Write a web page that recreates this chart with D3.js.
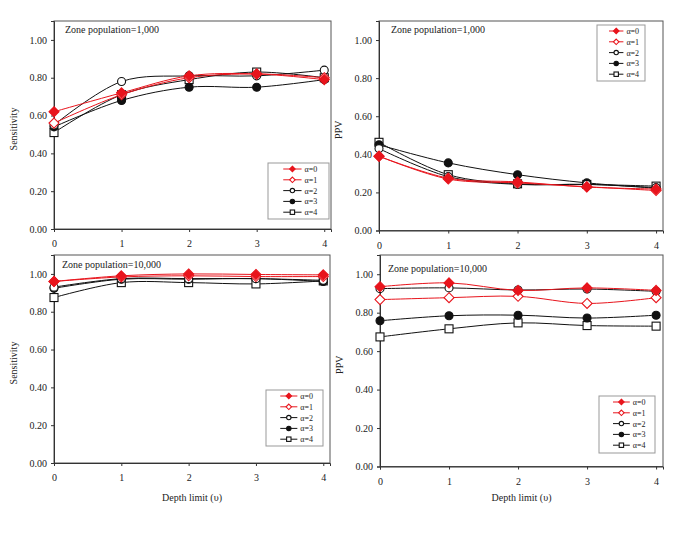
<!DOCTYPE html>
<html><head><meta charset="utf-8">
<script src="https://cdn.jsdelivr.net/npm/d3@7"></script>
<style>body{margin:0;background:#fff}svg{display:block}svg text{font-family:"Liberation Serif","Times New Roman",serif !important;fill:#222}</style>
</head><body><svg id="c" width="685" height="537" font-family="Liberation Serif"></svg>
<script>
const depth = [0, 1, 2, 3, 4];
const seriesNames = ["α=0", "α=1", "α=2", "α=3", "α=4"];
const yTicks = [0, 0.2, 0.4, 0.6, 0.8, 1.0];

// Sensitivity, zone population 1,000
const sens1000_a0 = [0.62, 0.72, 0.81, 0.82, 0.79];
const sens1000_a1 = [0.56, 0.71, 0.80, 0.82, 0.80];
const sens1000_a2 = [0.55, 0.78, 0.81, 0.81, 0.84];
const sens1000_a3 = [0.54, 0.68, 0.75, 0.75, 0.79];
const sens1000_a4 = [0.51, 0.71, 0.79, 0.83, 0.80];
// PPV, zone population 1,000
const ppv1000_a0 = [0.39, 0.275, 0.255, 0.228, 0.218];
const ppv1000_a1 = [0.39, 0.27, 0.25, 0.23, 0.21];
const ppv1000_a2 = [0.43, 0.283, 0.242, 0.242, 0.225];
const ppv1000_a3 = [0.45, 0.355, 0.293, 0.25, 0.222];
const ppv1000_a4 = [0.463, 0.293, 0.245, 0.242, 0.233];
// Sensitivity, zone population 10,000
const sens10000_a0 = [0.96, 0.99, 1.00, 0.997, 0.995];
const sens10000_a1 = [0.96, 0.984, 0.99, 0.986, 0.986];
const sens10000_a2 = [0.93, 0.975, 0.975, 0.975, 0.966];
const sens10000_a3 = [0.924, 0.972, 0.972, 0.975, 0.96];
const sens10000_a4 = [0.875, 0.954, 0.954, 0.947, 0.963];
// PPV, zone population 10,000
const ppv10000_a0 = [0.935, 0.955, 0.916, 0.929, 0.916];
const ppv10000_a1 = [0.868, 0.878, 0.885, 0.848, 0.878];
const ppv10000_a2 = [0.925, 0.929, 0.918, 0.923, 0.911];
const ppv10000_a3 = [0.758, 0.784, 0.787, 0.772, 0.787];
const ppv10000_a4 = [0.674, 0.716, 0.747, 0.733, 0.73];

const styles = [
  {color: "#e8141c", shape: "diamond", fill: "#e8141c"},
  {color: "#e8141c", shape: "diamond", fill: "#fff"},
  {color: "#111", shape: "circle", fill: "#fff"},
  {color: "#111", shape: "circle", fill: "#111"},
  {color: "#111", shape: "square", fill: "#fff"}
];

const panels = [
  {l: 54, r: 331, t: 21, b: 229, ylab: "Sensitivity", zone: "Zone population=1,000", zx: 65, zy: 33, xt: false,
   data: [sens1000_a0, sens1000_a1, sens1000_a2, sens1000_a3, sens1000_a4], leg: {x: 268, y: 163, w: 61, h: 56}},
  {l: 379, r: 663, t: 21, b: 230.5, ylab: "PPV", zone: "Zone population=1,000", zx: 391, zy: 33, xt: false,
   data: [ppv1000_a0, ppv1000_a1, ppv1000_a2, ppv1000_a3, ppv1000_a4], leg: {x: 597, y: 25, w: 48, h: 56}},
  {l: 54, r: 330, t: 255, b: 463, ylab: "Sensitivity", zone: "Zone population=10,000", zx: 62, zy: 268, xt: true,
   data: [sens10000_a0, sens10000_a1, sens10000_a2, sens10000_a3, sens10000_a4], leg: {x: 266, y: 390, w: 57, h: 56}},
  {l: 380, r: 663, t: 255, b: 466.5, ylab: "PPV", zone: "Zone population=10,000", zx: 388, zy: 272, xt: true,
   data: [ppv10000_a0, ppv10000_a1, ppv10000_a2, ppv10000_a3, ppv10000_a4], leg: {x: 599, y: 396, w: 56, h: 57}}
];

const svg = d3.select("#c");
svg.append("rect").attr("width", 685).attr("height", 537).attr("fill", "#fff");
const FONT = "Liberation Serif";

function marker(g, shape, x, y, s, st) {
  let m;
  if (shape === "circle") m = g.append("circle").attr("cx", x).attr("cy", y).attr("r", s);
  else if (shape === "square") m = g.append("rect").attr("x", x - s).attr("y", y - s).attr("width", 2 * s).attr("height", 2 * s);
  else m = g.append("path").attr("d", `M${x},${y - s * 1.25}L${x + s * 1.25},${y}L${x},${y + s * 1.25}L${x - s * 1.25},${y}Z`);
  m.attr("fill", st.fill).attr("stroke", st.color).attr("stroke-width", 1.1);
}

panels.forEach(p => {
  const x = d3.scaleLinear().domain([0, 4.1]).range([p.l, p.r]);
  const y = d3.scaleLinear().domain([0, 1.1]).range([p.b, p.t]);
  const g = svg.append("g").attr("font-family", FONT);
  g.append("rect").attr("x", p.l).attr("y", p.t).attr("width", p.r - p.l).attr("height", p.b - p.t)
    .attr("fill", "none").attr("stroke", "#555").attr("stroke-width", 1);

  const ya = g.append("g").attr("transform", `translate(${p.l},0)`)
    .call(d3.axisLeft(y).tickValues(yTicks).tickFormat(d3.format(".2f")).tickSizeOuter(0).tickSize(3).tickPadding(4));
  const xa = g.append("g").attr("transform", `translate(0,${p.b})`)
    .call(d3.axisBottom(x).tickValues(depth).tickFormat(d3.format("d")).tickSizeOuter(0).tickSize(3).tickPadding(8));
  [ya, xa].forEach(a => {
    a.attr("font-family", FONT);
    a.select(".domain").attr("stroke", "#333");
    a.selectAll(".tick line").attr("stroke", "#333");
    a.selectAll("text").attr("font-size", 10).style("font-family", FONT).attr("fill", "#222");
  });

  g.append("text").attr("transform", `translate(${p.l - 37},${(p.t + p.b) / 2 + 4}) rotate(-90)`)
    .attr("text-anchor", "middle").attr("font-size", 10).style("font-family", FONT).text(p.ylab);
  g.append("text").attr("x", p.zx).attr("y", p.zy).attr("font-size", 10).style("font-family", FONT).text(p.zone);
  if (p.xt) g.append("text").attr("x", (p.l + p.r) / 2).attr("y", 501).attr("text-anchor", "middle")
    .attr("font-size", 10).style("font-family", FONT).text("Depth limit (υ)");

  const line = d3.line().x((d, i) => x(depth[i])).y(d => y(d)).curve(d3.curveCatmullRom.alpha(0.5));
  const order = [4, 3, 2, 1, 0];
  order.forEach(k => {
    g.append("path").attr("d", line(p.data[k])).attr("fill", "none")
      .attr("stroke", styles[k].color).attr("stroke-width", 1);
  });
  order.forEach(k => {
    p.data[k].forEach((v, i) => marker(g, styles[k].shape, x(depth[i]), y(v), 4, styles[k]));
  });

  const L = p.leg;
  g.append("rect").attr("x", L.x).attr("y", L.y).attr("width", L.w).attr("height", L.h)
    .attr("fill", "#fff").attr("stroke", "#999").attr("stroke-width", 1);
  const lx0 = L.x + L.w * 0.25, lx1 = L.x + L.w * 0.55;
  seriesNames.forEach((nm, k) => {
    const yy = L.y + 6 + k * 10.8;
    g.append("line").attr("x1", lx0).attr("x2", lx1).attr("y1", yy).attr("y2", yy)
      .attr("stroke", styles[k].color).attr("stroke-width", 1);
    marker(g, styles[k].shape, (lx0 + lx1) / 2, yy, 2.2, styles[k]);
    g.append("text").attr("x", lx1 + 3).attr("y", yy + 3).attr("font-size", 8).style("font-family", FONT).text(nm);
  });
});
</script></body></html>
